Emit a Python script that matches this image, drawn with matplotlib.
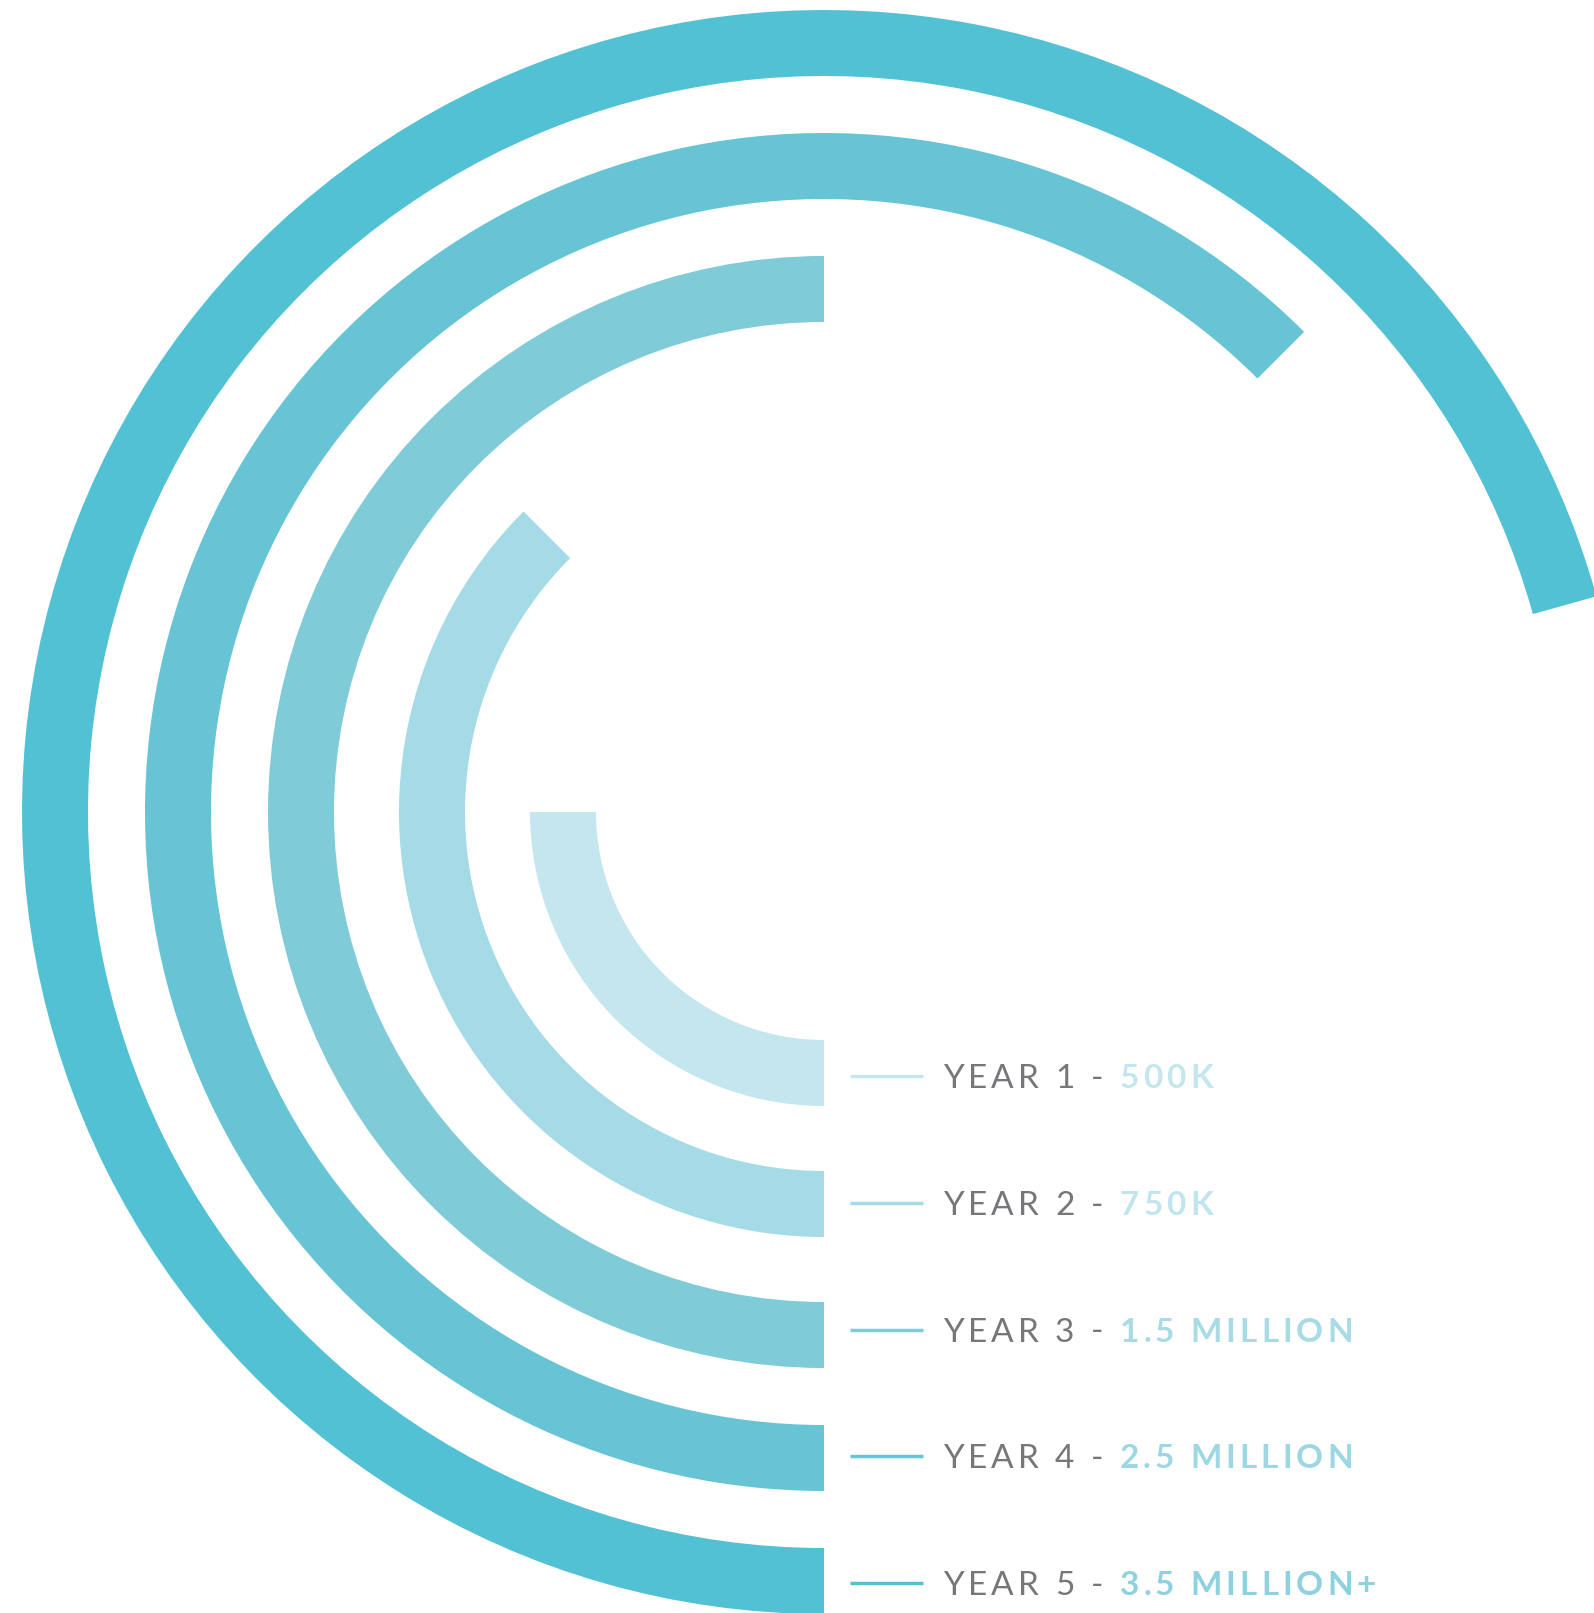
import numpy as np
import matplotlib
matplotlib.use("Agg")
import matplotlib.pyplot as plt

# Data
years = ["YEAR 1", "YEAR 2", "YEAR 3", "YEAR 4", "YEAR 5"]
values = ["500K", "750K", "1.5 MILLION", "2.5 MILLION", "3.5 MILLION+"]
arc_degrees = [90, 135, 180, 225, 254.4]

# Styles
ring_colors = ["#c3e6ef", "#a4dbe6", "#80cbd8", "#66c4d4", "#52c1d4"]
value_colors = ["#c3e6ef", "#c0e5ee", "#a8dbe6", "#9ed7e4", "#8ed2e0"]
gray = "#77777b"

# Layout (pixels)
W, H = 1594, 1613
cx, cy = 824, 812
inner_r = [228, 359, 490, 613, 736]
thick = 66
R = 830
leg_y0, leg_step = 1076, 126.75

fig = plt.figure(figsize=(W / 100, H / 100), dpi=100)

# polar axes centred on the ring centre, radius units = pixels
ax = fig.add_axes([(cx - R) / W, (H - cy - R) / H, 2 * R / W, 2 * R / H],
                  projection="polar")
ax.set_theta_zero_location("S")
ax.set_theta_direction(-1)
ax.set_rlim(0, R)
for span, r0, c in zip(arc_degrees, inner_r, ring_colors):
    ax.bar(0, thick, width=np.deg2rad(span), bottom=r0, align="edge",
           color=c, edgecolor="none")
ax.set_axis_off()

# overlay axes in pixel coords for the legend
lx = fig.add_axes([0, 0, 1, 1])
lx.set_xlim(0, W)
lx.set_ylim(H, 0)
lx.set_axis_off()
lx.patch.set_alpha(0)

renderer = fig.canvas.get_renderer()
font = dict(family="Lato", size=24)
track = 4.0


def width_of(s, **kw):
    t = lx.text(0, 0, s + "|", **kw)
    w = t.get_window_extent(renderer).width
    t.remove()
    t = lx.text(0, 0, "|", **kw)
    w -= t.get_window_extent(renderer).width
    t.remove()
    return w


def tracked(x, y, s, color, **kw):
    for i, ch in enumerate(s):
        if ch == " ":
            continue
        lx.text(x + width_of(s[:i], **kw) + i * track, y, ch, color=color,
                va="center_baseline", ha="left", **kw)
    return x + width_of(s, **kw) + len(s) * track


for i in range(5):
    y = leg_y0 + i * leg_step
    lx.plot([850, 923], [y, y], color=ring_colors[i], lw=2.5,
            solid_capstyle="butt")
    x = tracked(943, y, years[i] + " - ", gray, weight="normal", **font)
    tracked(x, y, values[i], value_colors[i], weight="bold", **font)

fig.savefig("out.png", dpi=100, facecolor="white")
